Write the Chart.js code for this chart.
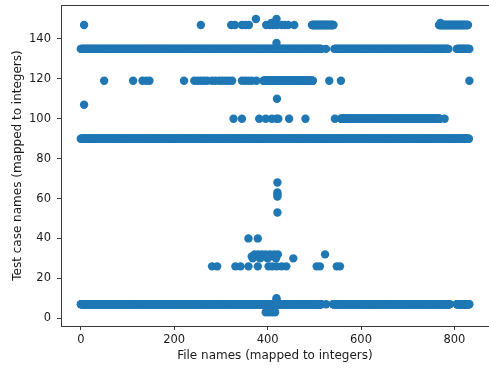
<!DOCTYPE html>
<html>
<head>
<meta charset="utf-8">
<script src="https://cdn.jsdelivr.net/npm/chart.js@4/dist/chart.umd.min.js"></script>
<style>
  html, body { margin: 0; padding: 0; background: #fff; width: 489px; height: 369px; overflow: hidden; }
  canvas { display: block; }
</style>
</head>
<body>
<canvas id="chart" width="493" height="369" style="width:493px;height:369px"></canvas>
<script>
// Tick labels
const xTicks = [0, 200, 400, 600, 800];
const yTicks = [0, 20, 40, 60, 80, 100, 120, 140];

// Test cases hit by unbroken runs of consecutive files: case, first file, last file
const runCases = [7,   7,   7,   90,  135, 135, 135, 147, 147, 119, 100];
const runStart = [0,   540, 805, 0,   0,   543, 805, 495, 767, 391, 557];
const runEnd   = [515, 790, 832, 831, 515, 787, 832, 541, 829, 497, 769];

// Individual (file, test case) hits
const hitFiles = [
  // case 150 / 148 / 147
  375, 419, 408, 770,
  7, 257, 322, 330, 345, 352, 360, 397, 405, 412, 420, 430, 437, 444, 457,
  // case 138 / 135
  419, 525,
  // case 119
  50, 112, 132, 140, 147, 221, 243, 250, 257, 264, 271, 281, 288, 296, 303, 310, 317, 324,
  345, 352, 359, 366, 376, 532, 557, 832,
  // case 110 / 107
  420, 7,
  // case 100
  327, 345, 382, 396, 409, 419, 423, 446, 481, 544, 779,
  // cases 68 .. 53
  421, 421, 421, 421, 421,
  // case 40
  359, 379,
  // case 32
  372, 380, 388, 396, 405, 414, 422, 523,
  // case 31
  366, 376, 392, 410,
  // case 30
  368, 384, 400, 418, 455,
  // case 26
  281, 292, 331, 342, 359, 379, 402, 410, 419, 430, 440, 505, 512, 548, 555,
  // cases 10 / 9 / 8 / 7
  419, 419, 420, 525,
  // case 3
  396, 403, 410, 416
];
const hitCases = [
  150, 150, 148, 148,
  147, 147, 147, 147, 147, 147, 147, 147, 147, 147, 147, 147, 147, 147, 147,
  138, 135,
  119, 119, 119, 119, 119, 119, 119, 119, 119, 119, 119, 119, 119, 119, 119, 119, 119, 119,
  119, 119, 119, 119, 119, 119, 119, 119,
  110, 107,
  100, 100, 100, 100, 100, 100, 100, 100, 100, 100, 100,
  68, 63, 62, 61, 53,
  40, 40,
  32, 32, 32, 32, 32, 32, 32, 32,
  31, 31, 31, 31,
  30, 30, 30, 30, 30,
  26, 26, 26, 26, 26, 26, 26, 26, 26, 26, 26, 26, 26, 26, 26,
  10, 9, 8, 7,
  3, 3, 3, 3
];

// Assemble the scatter points
const points = [];
runCases.forEach((c, i) => {
  for (let f = runStart[i]; f <= runEnd[i]; f++) points.push({ x: f, y: c });
});
hitFiles.forEach((f, i) => points.push({ x: f, y: hitCases[i] }));

const FONT = "'DejaVu Sans', sans-serif";
const INK = '#1a1a1a';
const SPINE = '#3a3a3a';

// Closed box around the plotting area (top and right edges)
const frame = {
  id: 'frame',
  afterDatasetsDraw(chart) {
    const { ctx, chartArea: a } = chart;
    ctx.save();
    ctx.strokeStyle = SPINE;
    ctx.lineWidth = 1;
    ctx.strokeRect(Math.round(a.left) + 0.5, Math.round(a.top) + 0.5,
                   Math.round(a.right - a.left), Math.round(a.bottom - a.top));
    ctx.restore();
  }
};

new Chart(document.getElementById('chart'), {
  type: 'scatter',
  data: {
    datasets: [{
      data: points,
      backgroundColor: '#1f77b4',
      borderColor: '#1f77b4',
      borderWidth: 0,
      pointRadius: 4.2,
      pointHoverRadius: 4.2
    }]
  },
  options: {
    responsive: false,
    animation: false,
    devicePixelRatio: 1,
    events: [],
    layout: { padding: { top: 5, left: 0, right: 0, bottom: 0 } },
    plugins: { legend: { display: false }, tooltip: { enabled: false } },
    scales: {
      x: {
        type: 'linear',
        position: 'bottom',
        min: -42.4,
        max: 873.6,
        grid: { drawOnChartArea: false, drawTicks: true, tickLength: 4, color: SPINE },
        border: { display: true, color: SPINE, width: 1 },
        ticks: { autoSkip: false, maxRotation: 0, padding: 3, color: INK, font: { family: FONT, size: 11.5 } },
        title: {
          display: true,
          text: 'File names (mapped to integers)',
          color: INK,
          font: { family: FONT, size: 12 },
          padding: { top: 0, bottom: 5.8 }
        },
        afterBuildTicks: s => { s.ticks = xTicks.map(v => ({ value: v })); },
        afterFit: s => { s.height = 43; s.paddingLeft = 0; s.paddingRight = 0; }
      },
      y: {
        type: 'linear',
        position: 'left',
        min: -3.9,
        max: 157,
        grid: { drawOnChartArea: false, drawTicks: true, tickLength: 4, color: SPINE },
        border: { display: true, color: SPINE, width: 1 },
        ticks: { autoSkip: false, padding: 6, color: INK, font: { family: FONT, size: 11.5 } },
        title: {
          display: true,
          text: 'Test case names (mapped to integers)',
          color: INK,
          font: { family: FONT, size: 12 },
          padding: { top: 10.3, bottom: 0 }
        },
        afterBuildTicks: s => { s.ticks = yTicks.map(v => ({ value: v })); },
        afterFit: s => { s.width = 61; s.paddingTop = 0; s.paddingBottom = 0; }
      }
    }
  },
  plugins: [frame]
});
</script>
</body>
</html>
